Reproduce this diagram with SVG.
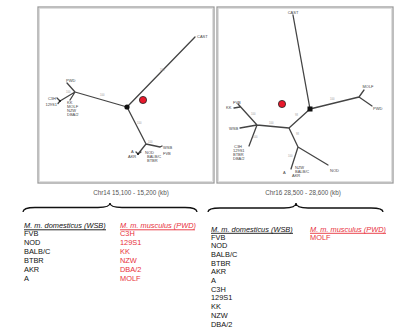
<svg xmlns="http://www.w3.org/2000/svg" width="402" height="336" viewBox="0 0 402 336">
<style>
.frame{fill:#fff;stroke:#9c9c9c;stroke-width:1.3}
.frame2{fill:none;stroke:#d8d8d8;stroke-width:0.8}
.br{fill:none;stroke:#444;stroke-width:1.3;stroke-linecap:round}
.lf{font-family:"Liberation Sans",Arial,sans-serif;font-size:4px;fill:#444}
.el{font-family:"Liberation Sans",Arial,sans-serif;font-size:2.6px;fill:#999}
.cap{font-family:"Liberation Sans",Arial,sans-serif;font-size:6.3px;fill:#555;text-anchor:middle}
.hd{font-family:"Liberation Sans",Arial,sans-serif;font-size:7.4px;font-style:italic}
.it{font-family:"Liberation Sans",Arial,sans-serif;font-size:7.4px;fill:#111}
.red{fill:#e8303a}
.blk{fill:#111}
.dot{fill:#e8192c;stroke:#222;stroke-width:0.8}
.brace{fill:none;stroke:#111;stroke-width:1.3}
</style>
<rect x="0" y="0" width="402" height="336" fill="#fff"/>
<g id="panel-chr14"><rect class="frame" x="38" y="7" width="176" height="176"/><rect class="frame2" x="39.5" y="8.5" width="173" height="173"/></g>
<g id="panel-chr16"><rect class="frame" x="217" y="7" width="176" height="176"/><rect class="frame2" x="218.5" y="8.5" width="173" height="173"/></g>
<g id="connectors">
<path class="br" d="M127,107 L195,37 M127,107 L75,92 M75,92 L67,83 M75,92 L60,101 M60,101 L57,98 M60,101 L58,103.5 M75,92 L70,100 M127,107 L146,144 M146,144 L160,147 M160,147 L162,146 M146,144 L138,154 M138,154 L136,152 M138,154 L141,152"/>
<path class="br" d="M310,109 L293,15 M310,109 L359,97 M359,97 L364,90 M359,97 L372,106 M310,109 L289,128 M289,128 L257,125 M257,125 L238,104 M240,107 L234,108 M257,125 L240,128 M257,125 L249,146 M289,128 L298,147 M298,147 L291,169 M298,147 L328,165"/>
</g>
<g id="edge-labels">
<text class="el" x="160" y="71">100</text>
<text class="el" x="100" y="96">100</text>
<text class="el" x="66" y="93">100</text>
<text class="el" x="137" y="124">100</text>
<text class="el" x="148" y="143">100</text>
<text class="el" x="330" y="100">100</text>
<text class="el" x="295" y="116">98</text>
<text class="el" x="296" y="135">98</text>
<text class="el" x="269" y="124">100</text>
<text class="el" x="251" y="115">100</text>
<text class="el" x="253" y="138">100</text>
<text class="el" x="288" y="157">100</text>
</g>
<g id="tree14-nodes">
<circle cx="127" cy="107" r="2.6" fill="#111"/>
<circle cx="60" cy="101" r="1" fill="#111"/>
<circle cx="138" cy="154" r="1" fill="#111"/>
</g>
<g id="tree16-nodes">
<rect x="307.5" y="106.5" width="5" height="5" fill="#111"/>
</g>
<g id="t14-cast"><text class="lf" x="197" y="38">CAST</text></g>
<g id="t14-pwd"><text class="lf" x="66" y="82">PWD</text></g>
<g id="t14-c3h"><text class="lf" x="56" y="99.5" text-anchor="end">C3H</text></g>
<g id="t14-129s1"><text class="lf" x="57" y="106" text-anchor="end">129S1</text></g>
<g id="t14-kk"><text class="lf" x="67" y="104">KK</text><text class="lf" x="67" y="108">MOLF</text><text class="lf" x="67" y="112">NZW</text><text class="lf" x="67" y="116">DBA/2</text></g>
<g id="t14-wsb"><text class="lf" x="163" y="149">WSB</text><text class="lf" x="163" y="155">FVB</text></g>
<g id="t14-a"><text class="lf" x="131" y="153">A</text><text class="lf" x="128" y="158">AKR</text></g>
<g id="t14-nod"><text class="lf" x="145" y="154">NOD</text><text class="lf" x="147" y="158">BALB/C</text><text class="lf" x="147" y="162">BTBR</text></g>
<g id="t16-cast"><text class="lf" x="293" y="13.5" text-anchor="middle">CAST</text></g>
<g id="t16-molf"><text class="lf" x="368" y="88" text-anchor="middle">MOLF</text></g>
<g id="t16-pwd"><text class="lf" x="373" y="110">PWD</text></g>
<g id="t16-fvb"><text class="lf" x="233" y="104">FVB</text><text class="lf" x="226" y="109">KK</text></g>
<g id="t16-wsb"><text class="lf" x="229" y="130">WSB</text></g>
<g id="t16-c3h"><text class="lf" x="234" y="148">C3H</text><text class="lf" x="233" y="152">129S1</text><text class="lf" x="233" y="156">BTBR</text><text class="lf" x="233" y="160">DBA/2</text></g>
<g id="t16-a"><text class="lf" x="283" y="174">A</text></g>
<g id="t16-nzw"><text class="lf" x="295" y="169">NZW</text><text class="lf" x="295" y="173">BALB/C</text><text class="lf" x="292" y="177">AKR</text></g>
<g id="t16-nod"><text class="lf" x="330" y="172">NOD</text></g>
<g id="red-dots">
<circle class="dot" cx="143" cy="100" r="3.6"/>
<circle class="dot" cx="282" cy="104" r="3.6"/>
</g>
<g id="captions">
<text class="cap" x="131" y="195">Chr14 15,100 - 15,200 (kb)</text>
<text class="cap" x="303" y="195">Chr16 28,500 - 28,600 (kb)</text>
</g>
<g id="braces">
<path class="brace" d="M23,212 Q23,207.5 35,207.5 L98,207.5 Q110,207.5 110,203 Q110,207.5 122,207.5 L185,207.5 Q197,207.5 197,212"/>
<path class="brace" d="M208,212 Q208,208 220,208 L284,208 Q296,208 296,203 Q296,208 308,208 L371,208 Q383,208 383,212"/>
</g>
<g id="legend-chr14">
<text class="hd blk" x="24" y="228">M. m. domesticus (WSB)</text>
<line x1="24" y1="229.8" x2="106" y2="229.8" stroke="#111" stroke-width="0.9"/>
<text class="it" x="24" y="236">FVB</text>
<text class="it" x="24" y="245">NOD</text>
<text class="it" x="24" y="254">BALB/C</text>
<text class="it" x="24" y="263">BTBR</text>
<text class="it" x="24" y="272">AKR</text>
<text class="it" x="24" y="281">A</text>
<text class="hd red" x="120" y="228">M. m. musculus (PWD)</text>
<line x1="120" y1="229.8" x2="195" y2="229.8" stroke="#e8303a" stroke-width="0.9"/>
<text class="it red" x="120" y="236">C3H</text>
<text class="it red" x="120" y="245">129S1</text>
<text class="it red" x="120" y="254">KK</text>
<text class="it red" x="120" y="263">NZW</text>
<text class="it red" x="120" y="272">DBA/2</text>
<text class="it red" x="120" y="281">MOLF</text>
</g>
<g id="legend-chr16">
<text class="hd blk" x="211" y="231.5">M. m. domesticus (WSB)</text>
<line x1="211" y1="233.3" x2="293" y2="233.3" stroke="#111" stroke-width="0.9"/>
<text class="it" x="211" y="239.5">FVB</text>
<text class="it" x="211" y="248.2">NOD</text>
<text class="it" x="211" y="256.9">BALB/C</text>
<text class="it" x="211" y="265.6">BTBR</text>
<text class="it" x="211" y="274.3">AKR</text>
<text class="it" x="211" y="283">A</text>
<text class="it" x="211" y="291.7">C3H</text>
<text class="it" x="211" y="300.4">129S1</text>
<text class="it" x="211" y="309.1">KK</text>
<text class="it" x="211" y="317.8">NZW</text>
<text class="it" x="211" y="326.5">DBA/2</text>
<text class="hd red" x="310" y="231.5">M. m. musculus (PWD)</text>
<line x1="310" y1="233.3" x2="386" y2="233.3" stroke="#e8303a" stroke-width="0.9"/>
<text class="it red" x="310" y="239.5">MOLF</text>
</g>
</svg>
